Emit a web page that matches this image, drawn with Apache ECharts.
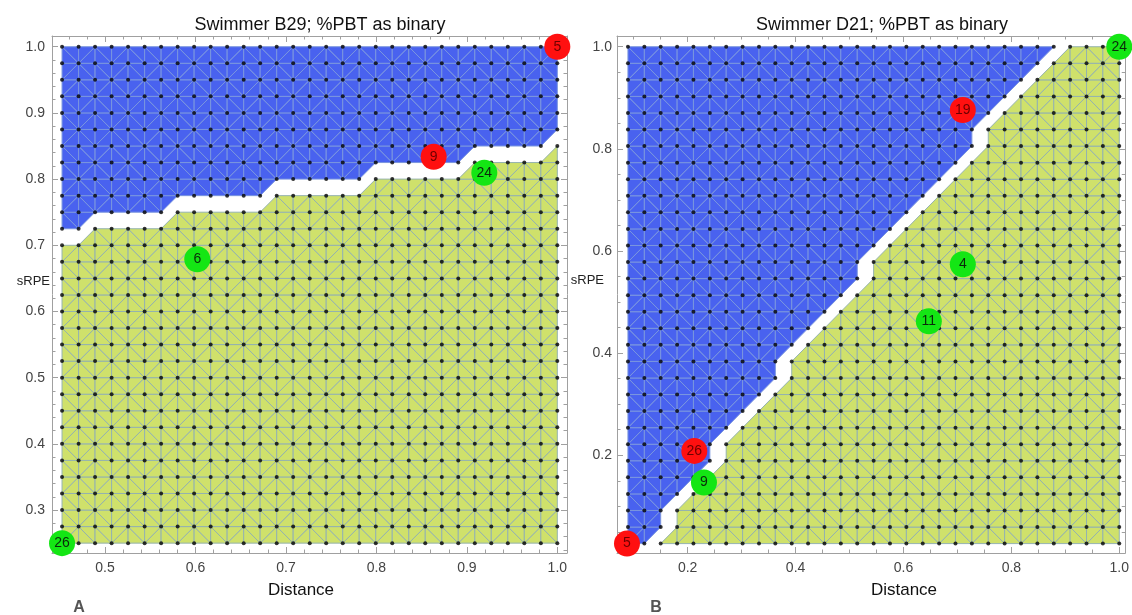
<!DOCTYPE html>
<html><head><meta charset="utf-8">
<script src="https://cdn.jsdelivr.net/npm/echarts@6/dist/echarts.min.js"></script>
<style>html,body{margin:0;padding:0;background:#fff}#c{width:1132px;height:615px}</style>
</head><body><div id="c"></div>
<script>
// ---------- Panel A (Swimmer B29) ----------
const leftXs = [0.4525,0.4708,0.4890,0.5073,0.5255,0.5438,0.5620,0.5803,0.5985,0.6168,0.6350,0.6533,0.6715,0.6898,0.7080,0.7263,0.7445,0.7628,0.7810,0.7993,0.8175,0.8358,0.8540,0.8723,0.8905,0.9088,0.9270,0.9453,0.9635,0.9818,1.0000];
const leftYs = [0.250,0.275,0.300,0.325,0.350,0.375,0.400,0.425,0.450,0.475,0.500,0.525,0.550,0.575,0.600,0.625,0.650,0.675,0.700,0.725,0.750,0.775,0.800,0.825,0.850,0.875,0.900,0.925,0.950,0.975,1.000];
// highest grid row (index into leftYs) that is class "yellow", per column
const leftYellowTopRow = [18,18,19,19,19,19,19,20,20,20,20,20,20,21,21,21,21,21,21,22,22,22,22,22,22,23,23,23,23,23,24];
const leftMarkers = [
  {x:1.0000, y:1.0000, label:'5',  cls:'red'},
  {x:0.8633, y:0.8338, label:'9',  cls:'red'},
  {x:0.9193, y:0.8096, label:'24', cls:'green'},
  {x:0.6020, y:0.6790, label:'6',  cls:'green'},
  {x:0.4525, y:0.2500, label:'26', cls:'green'}
];
const leftXMajor = [0.5,0.6,0.7,0.8,0.9,1.0];
const leftXMinor = [0.46,0.48,0.52,0.54,0.56,0.58,0.62,0.64,0.66,0.68,0.72,0.74,0.76,0.78,0.82,0.84,0.86,0.88,0.92,0.94,0.96,0.98];
const leftYMajor = [0.3,0.4,0.5,0.6,0.7,0.8,0.9,1.0];
const leftYMinor = [0.24,0.26,0.28,0.32,0.34,0.36,0.38,0.42,0.44,0.46,0.48,0.52,0.54,0.56,0.58,0.62,0.64,0.66,0.68,0.72,0.74,0.76,0.78,0.82,0.84,0.86,0.88,0.92,0.94,0.96,0.98];

// ---------- Panel B (Swimmer D21) ----------
const rightXs = [0.0893,0.1197,0.1500,0.1804,0.2107,0.2411,0.2714,0.3018,0.3322,0.3625,0.3929,0.4232,0.4536,0.4839,0.5143,0.5447,0.5750,0.6054,0.6357,0.6661,0.6964,0.7268,0.7572,0.7875,0.8179,0.8482,0.8786,0.9089,0.9393,0.9696,1.0000];
const rightYs = [0.0270,0.0594,0.0919,0.1243,0.1567,0.1892,0.2216,0.2540,0.2865,0.3189,0.3513,0.3838,0.4162,0.4486,0.4811,0.5135,0.5459,0.5784,0.6108,0.6432,0.6757,0.7081,0.7405,0.7730,0.8054,0.8378,0.8703,0.9027,0.9351,0.9676,1.0000];
// first grid column (index into rightXs) that is class "yellow", per row
const rightFirstYellowCol = [2,3,3,4,5,6,6,7,8,9,10,10,11,12,13,14,15,15,16,17,18,19,20,21,22,22,23,24,25,26,27];
const rightMarkers = [
  {x:1.0000, y:1.0000, label:'24', cls:'green'},
  {x:0.7100, y:0.8760, label:'19', cls:'red'},
  {x:0.7100, y:0.5740, label:'4',  cls:'green'},
  {x:0.6470, y:0.4625, label:'11', cls:'green'},
  {x:0.2123, y:0.2085, label:'26', cls:'red'},
  {x:0.2302, y:0.1466, label:'9',  cls:'green'},
  {x:0.0875, y:0.0270, label:'5',  cls:'red'}
];
const rightXMajor = [0.2,0.4,0.6,0.8,1.0];
const rightXMinor = [0.1,0.15,0.25,0.3,0.35,0.45,0.5,0.55,0.65,0.7,0.75,0.85,0.9,0.95];
const rightYMajor = [0.2,0.4,0.6,0.8,1.0];
const rightYMinor = [0.05,0.1,0.15,0.25,0.3,0.35,0.45,0.5,0.55,0.65,0.7,0.75,0.85,0.9,0.95];

// ---------- styles ----------
const FONT = "'Liberation Sans', Arial, sans-serif";
const BLUE = '#4962ef', YEL = '#cfe16b';
const BLUE_LINE = '#7a96de', YEL_LINE = '#94b2b0';
const RED = '#ff1010', GREEN = '#14e614';
const FRAME = '#a0a0a0';

const leftCls = (i, j) => (j <= leftYellowTopRow[i] ? 1 : 0);
const rightCls = (i, j) => (i >= rightFirstYellowCol[j] ? 1 : 0);

function buildTriangles(xs, ys, cls) {
  const out = [];
  for (let i = 0; i < xs.length - 1; i++) {
    for (let j = 0; j < ys.length - 1; j++) {
      const A = [i, j], B = [i + 1, j], C = [i + 1, j + 1], D = [i, j + 1];
      const ca = cls(i, j), cb = cls(i + 1, j), cc = cls(i + 1, j + 1), cd = cls(i, j + 1);
      const n = ca + cb + cc + cd;
      let slash;
      if (n === 1 || n === 3) {
        const odd = n === 1 ? 1 : 0;
        slash = !(ca === odd || cc === odd);
      } else {
        slash = ((i * 3 + j * 5) % 7) < 3;
      }
      const tris = slash ? [[A, B, C], [A, C, D]] : [[A, B, D], [B, C, D]];
      for (const t of tris) {
        const cs = t.map(p => cls(p[0], p[1]));
        if (cs[0] === cs[1] && cs[1] === cs[2]) {
          out.push([xs[t[0][0]], ys[t[0][1]], xs[t[1][0]], ys[t[1][1]], xs[t[2][0]], ys[t[2][1]], cs[0]]);
        }
      }
    }
  }
  return out;
}
function gridDots(xs, ys) {
  const out = [];
  xs.forEach(x => ys.forEach(y => out.push([x, y])));
  return out;
}
function triSeries(data, idx) {
  return {
    type: 'custom', xAxisIndex: idx, yAxisIndex: idx, data: data, silent: true, animation: false, clip: false,
    renderItem: function (params, api) {
      const p1 = api.coord([api.value(0), api.value(1)]);
      const p2 = api.coord([api.value(2), api.value(3)]);
      const p3 = api.coord([api.value(4), api.value(5)]);
      const y = api.value(6) === 1;
      return { type: 'polygon', shape: { points: [p1, p2, p3] },
        style: { fill: y ? YEL : BLUE, stroke: y ? YEL_LINE : BLUE_LINE, lineWidth: 1 } };
    }
  };
}
function markerSeries(list, idx) {
  return {
    type: 'scatter', xAxisIndex: idx, yAxisIndex: idx, symbolSize: 26, clip: false, silent: true, animation: false, z: 5,
    data: list.map(m => ({
      value: [m.x, m.y], name: m.label,
      itemStyle: { color: m.cls === 'red' ? RED : GREEN, opacity: 1 },
      label: { color: m.cls === 'red' ? '#6e0000' : '#0b2a0b' }
    })),
    label: { show: true, position: 'inside', formatter: p => p.name, fontSize: 14, fontFamily: FONT }
  };
}
function axisPair(kind, grid, min, max, pos, major, minor, withLabels, margin) {
  const base = {
    type: 'value', gridIndex: grid, min: min, max: max, position: pos, splitLine: { show: false },
    axisLine: { show: true, onZero: false, lineStyle: { color: FRAME, width: 1 } }
  };
  const a = Object.assign({}, base, {
    axisTick: { show: true, inside: true, length: 6, customValues: major, lineStyle: { color: FRAME } },
    axisLabel: withLabels ? { show: true, customValues: major, formatter: v => v.toFixed(1), color: '#444', fontSize: 14, fontFamily: FONT, margin: margin } : { show: false }
  });
  const b = Object.assign({}, base, {
    axisLine: { show: false, onZero: false },
    axisTick: { show: true, inside: true, length: 3.5, customValues: minor, lineStyle: { color: FRAME } },
    axisLabel: { show: false }
  });
  return [a, b];
}

const LX = [0.4414, 1.0107], LY = [0.2351, 1.0162];
const RX = [0.0690, 1.0111], RY = [0.0086, 1.0210];

const xAxis = [].concat(
  axisPair('x', 0, LX[0], LX[1], 'bottom', leftXMajor, leftXMinor, true, 8),
  axisPair('x', 0, LX[0], LX[1], 'top', leftXMajor, leftXMinor, false),
  axisPair('x', 1, RX[0], RX[1], 'bottom', rightXMajor, rightXMinor, true, 8),
  axisPair('x', 1, RX[0], RX[1], 'top', rightXMajor, rightXMinor, false)
);
const yAxis = [].concat(
  axisPair('y', 0, LY[0], LY[1], 'left', leftYMajor, leftYMinor, true, 7),
  axisPair('y', 0, LY[0], LY[1], 'right', leftYMajor, leftYMinor, false),
  axisPair('y', 1, RY[0], RY[1], 'left', rightYMajor, rightYMinor, true, 5),
  axisPair('y', 1, RY[0], RY[1], 'right', rightYMajor, rightYMinor, false)
);

function txt(x, y, s, size, color, weight, align) {
  return { type: 'text', x: x, y: y, silent: true,
    style: { text: s, fontSize: size, fontFamily: FONT, fontWeight: weight || 'normal', fill: color, align: align || 'center', verticalAlign: 'middle' } };
}

const chart = echarts.init(document.getElementById('c'), null, { renderer: 'canvas' });
chart.setOption({
  animation: false,
  backgroundColor: '#fff',
  grid: [
    { left: 52, top: 36, width: 515, height: 517 },
    { left: 617, top: 36, width: 510, height: 517 }
  ],
  xAxis: xAxis,
  yAxis: yAxis,
  graphic: [
    txt(320, 25, 'Swimmer B29; %PBT as binary', 18, '#111'),
    txt(882, 25, 'Swimmer D21; %PBT as binary', 18, '#111'),
    txt(301, 590, 'Distance', 17, '#111'),
    txt(904, 590, 'Distance', 17, '#111'),
    txt(50, 281, 'sRPE', 13, '#222', 'normal', 'right'),
    txt(604, 280, 'sRPE', 13, '#222', 'normal', 'right'),
    txt(79, 608, 'A', 16, '#555', 'bold'),
    txt(656, 608, 'B', 16, '#555', 'bold')
  ],
  series: [
    triSeries(buildTriangles(leftXs, leftYs, leftCls), 0),
    triSeries(buildTriangles(rightXs, rightYs, rightCls), 4),
    { type: 'scatter', xAxisIndex: 0, yAxisIndex: 0, data: gridDots(leftXs, leftYs), symbolSize: 4, itemStyle: { color: '#000' }, silent: true, animation: false, z: 3 },
    { type: 'scatter', xAxisIndex: 4, yAxisIndex: 4, data: gridDots(rightXs, rightYs), symbolSize: 4, itemStyle: { color: '#000' }, silent: true, animation: false, z: 3 },
    markerSeries(leftMarkers, 0),
    markerSeries(rightMarkers, 4)
  ]
});
</script></body></html>
